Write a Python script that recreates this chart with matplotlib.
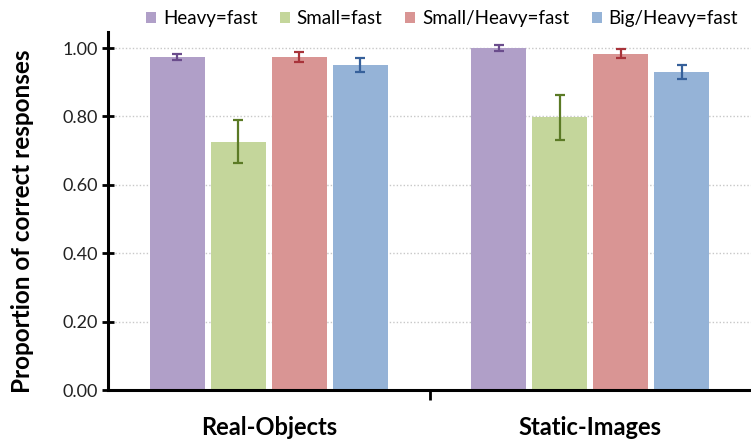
import matplotlib
matplotlib.use('Agg')
import matplotlib.pyplot as plt
import numpy as np

plt.rcParams['font.family'] = ['Lato', 'DejaVu Sans']

# data
categories = ['Real-Objects', 'Static-Images']
series = ['Heavy=fast', 'Small=fast', 'Small/Heavy=fast', 'Big/Heavy=fast']
means = {
    'Heavy=fast': [0.974, 0.999],
    'Small=fast': [0.726, 0.797],
    'Small/Heavy=fast': [0.974, 0.984],
    'Big/Heavy=fast': [0.951, 0.931],
}
errors = {
    'Heavy=fast': [0.010, 0.009],
    'Small=fast': [0.063, 0.065],
    'Small/Heavy=fast': [0.014, 0.013],
    'Big/Heavy=fast': [0.020, 0.020],
}
y_ticks = [0.0, 0.2, 0.4, 0.6, 0.8, 1.0]

bar_colors = ['#b09fc8', '#c4d69b', '#d99594', '#95b3d7']
err_colors = ['#6a4c8c', '#5b7a25', '#a8333a', '#36609a']


def main():
    fig = plt.figure(figsize=(7.51, 4.40), dpi=100)
    ax = fig.add_axes([108 / 751, 50 / 440, 643 / 751, 358 / 440])

    x = np.arange(len(categories))
    spacing = 0.19
    width = 0.171
    for i, name in enumerate(series):
        pos = x + (i - 1.5) * spacing
        ax.bar(pos, means[name], width=width, color=bar_colors[i],
               label=name, zorder=2)
        ax.errorbar(pos, means[name], yerr=errors[name], fmt='none',
                    ecolor=err_colors[i], elinewidth=1.6, capsize=3.5,
                    capthick=1.6, zorder=3)

    ax.set_xlim(-0.5, 1.5)
    ax.set_ylim(0, 1.047)
    ax.set_yticks(y_ticks)
    ax.set_yticklabels([f'{v:.2f}' for v in y_ticks], fontsize=13,
                       color='#222222')
    ax.yaxis.grid(True, ls=(0, (1, 1.5)), color='#c8c8c8', lw=1, zorder=0)
    ax.set_axisbelow(True)

    # category boundaries as tick marks, names in between
    ax.set_xticks([0.5])
    ax.set_xticklabels([''])
    ax.set_xticks(x, minor=True)
    ax.set_xticklabels(categories, minor=True, fontsize=17,
                       fontweight='bold')
    ax.tick_params(axis='x', which='major', direction='out', length=7,
                   width=2)
    ax.tick_params(axis='x', which='minor', length=0, pad=19)
    ax.tick_params(axis='y', direction='inout', length=8, width=2, pad=3)

    for side in ['top', 'right']:
        ax.spines[side].set_visible(False)
    ax.spines['left'].set_linewidth(2.2)
    ax.spines['bottom'].set_linewidth(2.2)

    ax.set_ylabel('Proportion of correct responses', fontsize=17.5,
                  fontweight='bold')
    ax.yaxis.set_label_coords(-0.115, 0.47)

    fig.legend(loc='upper center', bbox_to_anchor=(442 / 751, 1.015),
               ncol=4, frameon=False, fontsize=13.5, handlelength=0.55,
               handleheight=0.55, handletextpad=0.35, columnspacing=1.2)

    plt.savefig('out.png', dpi=100)


if __name__ == '__main__':
    main()
